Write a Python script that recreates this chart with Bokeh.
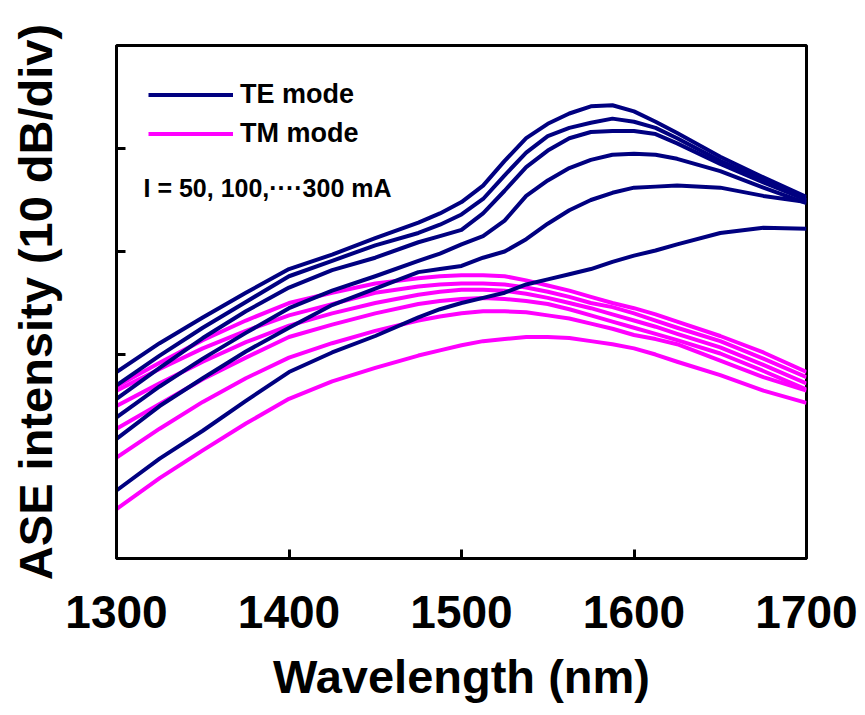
from bokeh.plotting import figure
from bokeh.models import Range1d, FixedTicker, Legend, LegendItem, Label
from bokeh.embed import file_html
from bokeh.resources import INLINE

# Wavelength samples (nm)
wavelength = [1300, 1325, 1350, 1375, 1400, 1425, 1450, 1475, 1487.5, 1500,
              1512.5, 1525, 1537.5, 1550, 1562.5, 1575, 1587.5, 1600, 1612.5,
              1625, 1650, 1675, 1700]

# TE mode ASE spectra (relative dB), I = 50 ... 300 mA
te_300 = [-31.7, -28.9, -26.4, -24.0, -21.7, -20.3, -18.7, -17.2, -16.3, -15.2,
          -13.6, -11.2, -9.0, -7.6, -6.6, -5.9, -5.8, -6.4, -7.4,
          -8.5, -10.8, -12.8, -14.7]
te_250 = [-33.0, -30.1, -27.4, -24.9, -22.4, -20.9, -19.4, -18.2, -17.4, -16.4,
          -14.9, -12.6, -10.4, -8.8, -8.0, -7.5, -7.1, -7.4, -8.0,
          -9.0, -11.2, -13.1, -15.0]
te_200 = [-34.3, -31.3, -28.4, -25.8, -23.5, -21.8, -20.6, -19.1, -18.5, -17.9,
          -16.3, -14.1, -11.8, -10.2, -9.0, -8.4, -8.3, -8.3, -8.6,
          -9.5, -11.5, -13.3, -15.0]
te_150 = [-36.1, -33.1, -30.4, -27.9, -25.5, -23.8, -22.4, -20.9, -20.2, -19.3,
          -18.5, -17.0, -14.6, -13.1, -11.9, -11.1, -10.6, -10.5, -10.6,
          -11.0, -12.2, -13.8, -15.3]
te_100 = [-38.2, -35.0, -32.3, -29.7, -27.4, -25.2, -23.6, -22.0, -21.7, -21.4,
          -20.6, -20.0, -18.8, -17.3, -16.0, -15.0, -14.3, -13.8, -13.7,
          -13.6, -13.8, -14.6, -15.2]
te_50 = [-43.2, -40.1, -37.4, -34.5, -31.7, -29.8, -28.2, -26.4, -25.6, -25.0,
         -24.5, -24.0, -23.2, -22.7, -22.2, -21.7, -21.0, -20.4, -19.9,
         -19.3, -18.2, -17.7, -17.8]

# TM mode ASE spectra (relative dB), I = 50 ... 300 mA
tm_300 = [-33.1, -30.8, -28.6, -26.7, -25.0, -24.0, -23.1, -22.6, -22.4, -22.3,
          -22.3, -22.4, -22.8, -23.3, -23.8, -24.4, -25.0, -25.5, -26.1,
          -26.8, -28.2, -29.8, -31.7]
tm_250 = [-33.5, -31.4, -29.4, -27.7, -26.2, -25.1, -24.0, -23.4, -23.2, -23.1,
          -23.1, -23.2, -23.5, -23.9, -24.4, -25.0, -25.4, -26.0, -26.7,
          -27.4, -28.7, -30.4, -32.2]
tm_200 = [-35.0, -32.8, -30.7, -28.8, -27.2, -26.0, -25.0, -24.2, -23.9, -23.7,
          -23.7, -23.8, -24.1, -24.5, -25.0, -25.5, -26.1, -26.7, -27.3,
          -28.0, -29.3, -31.0, -32.8]
tm_150 = [-37.2, -34.8, -32.4, -30.3, -28.3, -27.1, -26.0, -25.1, -24.8, -24.6,
          -24.5, -24.6, -24.8, -25.1, -25.6, -26.2, -26.8, -27.4, -28.0,
          -28.6, -29.9, -31.6, -33.4]
tm_100 = [-40.0, -37.2, -34.6, -32.3, -30.3, -28.9, -27.7, -26.7, -26.3, -26.0,
          -25.8, -25.8, -25.9, -26.2, -26.5, -27.0, -27.5, -28.1, -28.5,
          -29.0, -30.6, -32.2, -33.5]
tm_50 = [-45.0, -42.0, -39.3, -36.7, -34.3, -32.6, -31.3, -30.1, -29.6, -29.1,
         -28.7, -28.5, -28.3, -28.3, -28.4, -28.7, -29.0, -29.4, -30.0,
         -30.7, -32.0, -33.5, -34.7]

te_series = [te_300, te_250, te_200, te_150, te_100, te_50]
tm_series = [tm_300, tm_250, tm_200, tm_150, tm_100, tm_50]

x_ticks = [1300, 1400, 1500, 1600, 1700]
y_ticks = [-30, -20, -10]

TE_COLOR = "#000080"
TM_COLOR = "#FF00FF"
FONT = "Liberation Sans"

p = figure(width=865, height=715, output_backend="svg", toolbar_location=None,
           x_range=Range1d(1300, 1700), y_range=Range1d(-49.8, 0),
           min_border_left=116, min_border_right=59,
           min_border_top=45, min_border_bottom=157)

p.background_fill_color = "white"
p.border_fill_color = "white"
p.outline_line_color = "black"
p.outline_line_width = 3
p.xgrid.visible = False
p.ygrid.visible = False

tm_renderers = []
for s in tm_series:
    tm_renderers.append(p.line(wavelength, s, line_color=TM_COLOR, line_width=4,
                               line_join="round"))
te_renderers = []
for s in te_series:
    te_renderers.append(p.line(wavelength, s, line_color=TE_COLOR, line_width=4,
                               line_join="round"))

# X axis
xa = p.xaxis[0]
xa.ticker = FixedTicker(ticks=x_ticks)
xa.minor_tick_line_color = None
xa.major_tick_in = 9
xa.major_tick_out = 0
xa.major_tick_line_width = 3
xa.axis_line_width = 3
xa.major_label_text_font = FONT
xa.major_label_text_font_style = "bold"
xa.major_label_text_font_size = "46px"
xa.major_label_text_color = "black"
xa.major_label_standoff = 37
xa.axis_label = "Wavelength (nm)"
xa.axis_label_text_font = FONT
xa.axis_label_text_font_style = "bold"
xa.axis_label_text_font_size = "47px"
xa.axis_label_text_color = "black"
xa.axis_label_standoff = 19

# Y axis
ya = p.yaxis[0]
ya.ticker = FixedTicker(ticks=y_ticks)
ya.major_label_overrides = {t: "" for t in y_ticks}
ya.minor_tick_line_color = None
ya.major_tick_in = 9
ya.major_tick_out = 0
ya.major_tick_line_width = 3
ya.axis_line_width = 3
ya.axis_label = "ASE intensity (10 dB/div)"
ya.axis_label_text_font = FONT
ya.axis_label_text_font_style = "bold"
ya.axis_label_text_font_size = "47px"
ya.axis_label_text_color = "black"
ya.axis_label_standoff = 55

legend = Legend(items=[LegendItem(label="TE mode", renderers=[te_renderers[0]]),
                       LegendItem(label="TM mode", renderers=[tm_renderers[0]])],
                location=(32, 409), orientation="vertical",
                glyph_width=85, glyph_height=31, label_height=31,
                label_standoff=7, spacing=8, padding=0, margin=0,
                border_line_color=None, background_fill_alpha=0,
                label_text_font=FONT, label_text_font_style="bold",
                label_text_font_size="27px", label_text_color="black")
p.add_layout(legend)

p.add_layout(Label(x=27, y=371, x_units="screen", y_units="screen",
                   text="I = 50, 100,····300 mA", text_font=FONT,
                   text_font_style="bold", text_font_size="25px",
                   text_baseline="middle", text_color="black"))

open("out.html", "w").write(file_html(p, INLINE))
